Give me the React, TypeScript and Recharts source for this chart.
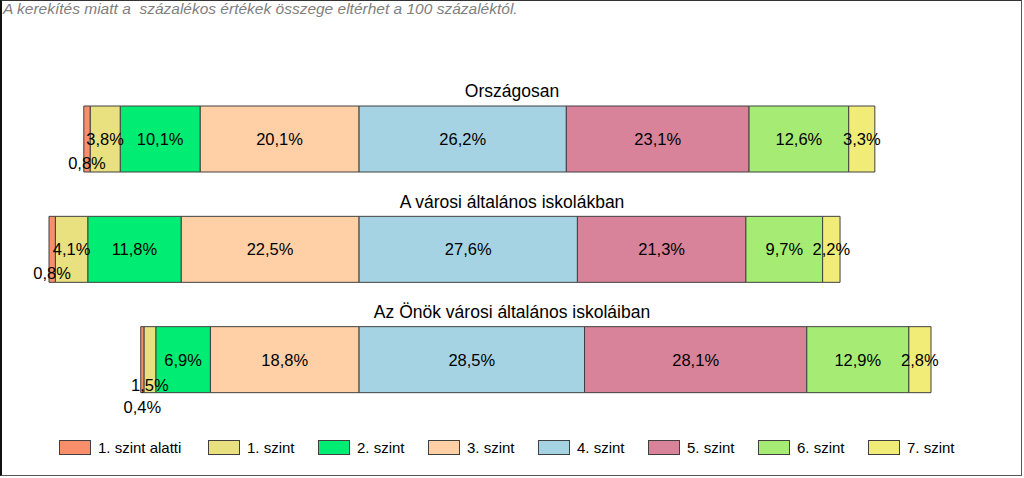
import { BarChart, Bar, XAxis, YAxis, LabelList } from "recharts";

const groups = [
  "Országosan",
  "A városi általános iskolákban",
  "Az Önök városi általános iskoláiban",
];

const levelNames = [
  "1. szint alatti",
  "1. szint",
  "2. szint",
  "3. szint",
  "4. szint",
  "5. szint",
  "6. szint",
  "7. szint",
];

const below1 = [0.8, 0.8, 0.4];
const level1 = [3.8, 4.1, 1.5];
const level2 = [10.1, 11.8, 6.9];
const level3 = [20.1, 22.5, 18.8];
const level4 = [26.2, 27.6, 28.5];
const level5 = [23.1, 21.3, 28.1];
const level6 = [12.6, 9.7, 12.9];
const level7 = [3.3, 2.2, 2.8];

const levelValues = [below1, level1, level2, level3, level4, level5, level6, level7];

const levelColors = [
  "#F98E6B",
  "#E9E07F",
  "#00EC73",
  "#FFCFA6",
  "#A6D3E4",
  "#D8839A",
  "#A6EC74",
  "#F1EC78",
];

const FONT = '"Liberation Sans", Arial, sans-serif';

// levels below 4. szint go to the left of the centre line
const data = groups.map((g, i) => {
  const row: Record<string, string | number> = { group: g };
  levelValues.forEach((vals, k) => {
    row["l" + k] = k < 4 ? -vals[i] : vals[i];
  });
  return row;
});

const leftMax = Math.max(...groups.map((_, i) => below1[i] + level1[i] + level2[i] + level3[i]));
const rightMax = Math.max(...groups.map((_, i) => level4[i] + level5[i] + level6[i] + level7[i]));

// stack negatives from the centre outwards, then the positives
const drawOrder = [3, 2, 1, 0, 4, 5, 6, 7];

// small segments get their label pushed down, like the original
const labelShift = (level: number, row: number) => {
  if (level === 0) return row === 2 ? 47 : 24;
  if (level === 1 && row === 2) return 25;
  return 0;
};

const fmt = (v: number) => Math.abs(v).toFixed(1).replace(".", ",") + "%";

const renderLabel = (level: number) => (props: any) => {
  const vb = props.viewBox && props.viewBox.width !== undefined ? props.viewBox : props;
  const x = Number(vb.x);
  const y = Number(vb.y);
  const w = Number(vb.width);
  const h = Number(vb.height);
  const idx = Number(props.index ?? 0);
  return (
    <text
      x={x + w / 2}
      y={y + h / 2 + labelShift(level, idx)}
      textAnchor="middle"
      dominantBaseline="central"
      fontSize={16.5}
      fontFamily={FONT}
      fill="#000"
    >
      {fmt(Number(props.value))}
    </text>
  );
};

const renderTitle = (props: any) => {
  const { y, payload } = props;
  return (
    <text x={512} y={Number(y) - 42} textAnchor="middle" fontSize={17.5} fontFamily={FONT} fill="#000">
      {payload.value}
    </text>
  );
};

export default function App() {
  return (
    <div style={{ position: "absolute", left: 0, top: 0, width: 1022, height: 476, background: "#fff", fontFamily: FONT }}>
      <div
        style={{
          position: "absolute",
          left: 3,
          top: 0,
          fontSize: 15.5,
          fontStyle: "italic",
          color: "#7f7f7f",
          whiteSpace: "pre",
        }}
      >
        A kerekítés miatt a  százalékos értékek összege eltérhet a 100 százaléktól.
      </div>

      <div style={{ position: "absolute", left: 0, top: 0 }}>
        <BarChart
          width={1022}
          height={430}
          data={data}
          layout="vertical"
          stackOffset="sign"
          margin={{ top: 84, right: 91, bottom: 15, left: 48 }}
        >
          <XAxis type="number" hide domain={[-leftMax, rightMax]} />
          <YAxis
            type="category"
            dataKey="group"
            width={1}
            interval={0}
            axisLine={false}
            tickLine={false}
            tick={renderTitle}
          />
          {drawOrder.map((k) => (
            <Bar
              key={k}
              dataKey={"l" + k}
              name={levelNames[k]}
              stackId="a"
              fill={levelColors[k]}
              stroke="#404040"
              strokeWidth={1}
              barSize={66}
              isAnimationActive={false}
            >
              <LabelList dataKey={"l" + k} content={renderLabel(k)} />
            </Bar>
          ))}
        </BarChart>
      </div>

      <div style={{ position: "absolute", left: 59, top: 439, display: "flex", alignItems: "center" }}>
        {levelNames.map((name, k) => (
          <div key={name} style={{ width: k === 0 ? 149 : 110, display: "flex", alignItems: "center" }}>
            <div
              style={{
                width: 32,
                height: 15,
                boxSizing: "border-box",
                background: levelColors[k],
                border: "1px solid #404040",
                marginRight: 7,
              }}
            />
            <span style={{ fontSize: 15, color: "#000" }}>{name}</span>
          </div>
        ))}
      </div>

      <div
        style={{
          position: "absolute",
          left: 0,
          top: 0,
          width: 1022,
          height: 476,
          boxSizing: "border-box",
          borderLeft: "2px solid #111",
          borderTop: "1px solid #333",
          borderRight: "1px solid #555",
          borderBottom: "1px solid #555",
          pointerEvents: "none",
        }}
      />
    </div>
  );
}
